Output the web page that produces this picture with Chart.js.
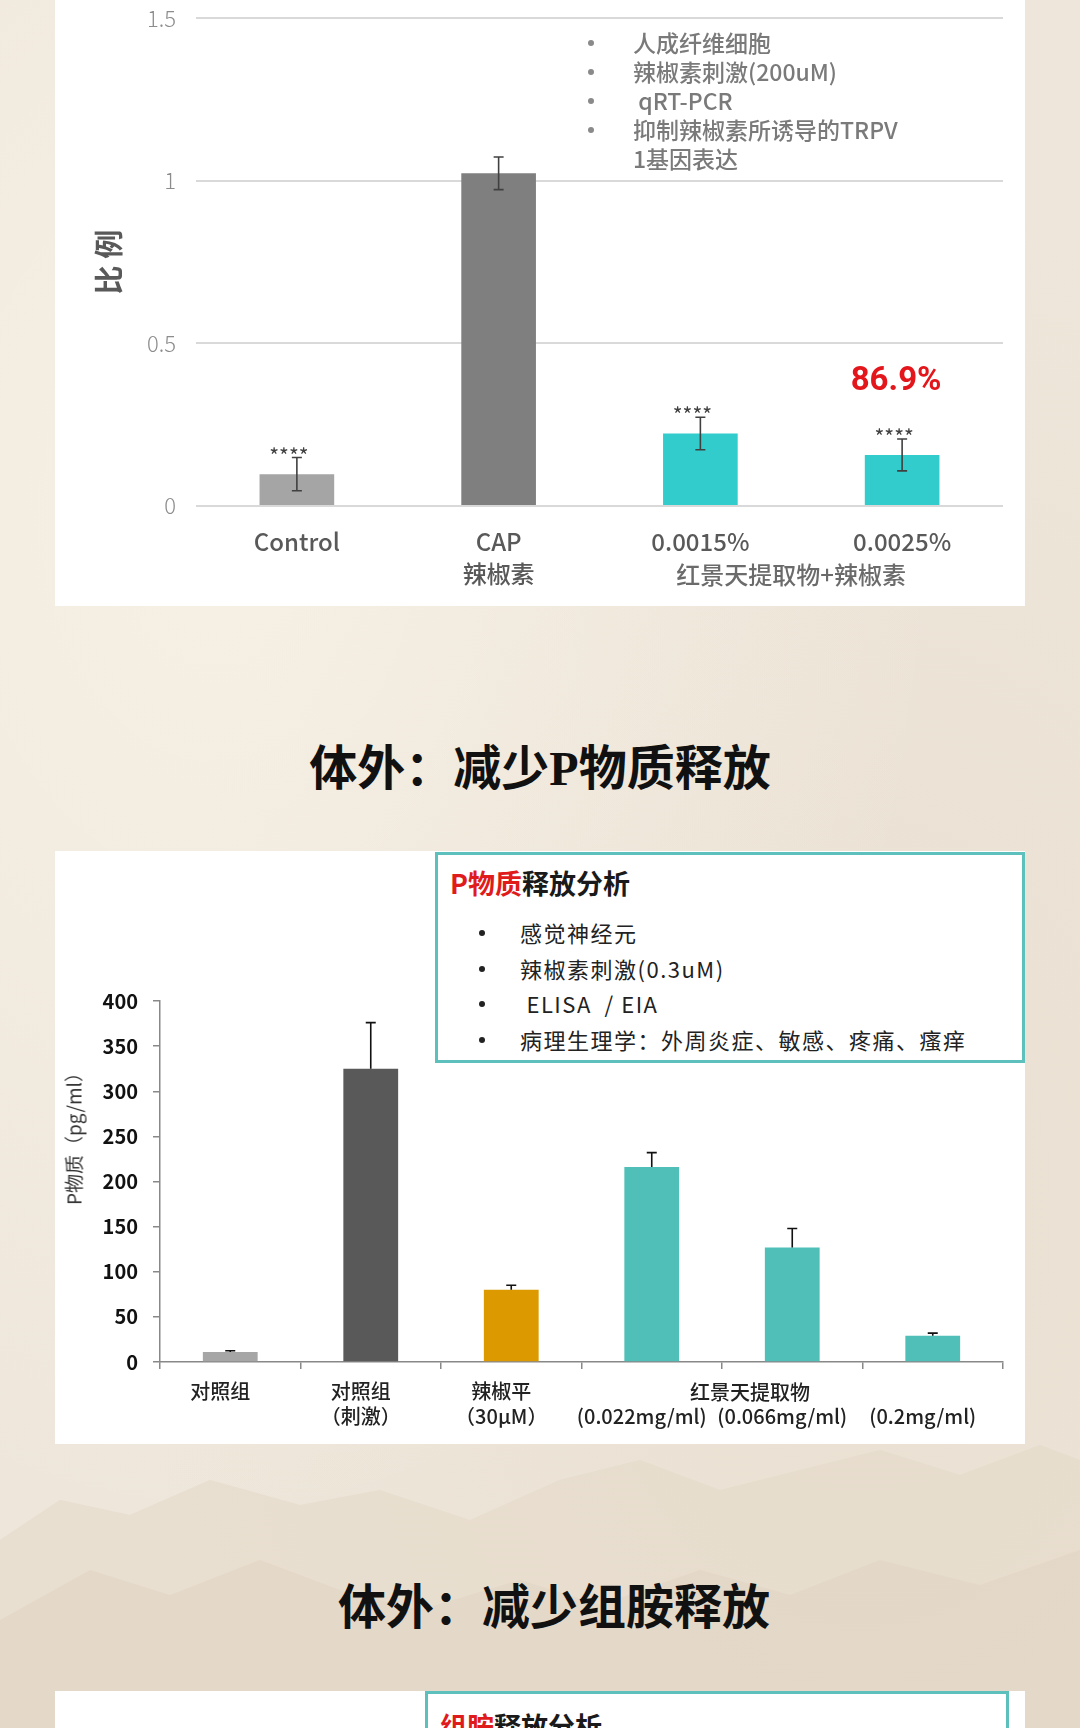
<!DOCTYPE html>
<html>
<head>
<meta charset="utf-8">
<script src="https://cdn.jsdelivr.net/npm/chart.js@4.4.1/dist/chart.umd.min.js"></script>
<style>
html, body { margin: 0; padding: 0; }
body {
  width: 1080px; height: 1728px; position: relative; overflow: hidden;
  font-family: "Noto Sans CJK SC", "Noto Sans", sans-serif;
  background:
    radial-gradient(ellipse at 20% 30%, rgba(255,250,240,0.5), rgba(255,250,240,0) 60%),
    radial-gradient(ellipse at 80% 70%, rgba(214,198,176,0.18), rgba(214,198,176,0) 60%),
    #eee6da;
}
.hills { position: absolute; left: 0; top: 1420px; width: 1080px; height: 308px; }
.panel { position: absolute; left: 55px; width: 970px; background: #fff; }
canvas { position: absolute; }
.bullets { position: absolute; color: #7a7a7a; font-size: 23px; font-weight: 500; line-height: 29px; }
.bullets div { position: relative; padding-left: 42px; white-space: nowrap; }
.bullets div.b::before {
  content: ""; position: absolute; left: -3px; top: 12px; width: 6px; height: 6px;
  border-radius: 50%; background: #8a8a8a;
}
.sec-title {
  position: absolute; width: 1080px; left: 0; text-align: center;
  font-family: "Liberation Serif", "Noto Sans CJK SC", serif; font-weight: 700;
  font-size: 48px; color: #111; line-height: 60px;
}
.infobox { position: absolute; border: 3px solid #5dc0bc; background: #fff; box-sizing: border-box; }
.infobox .ttl { position: absolute; left: 12px; font-size: 27px; font-weight: 700; color: #1a1a1a; white-space: nowrap; }
.infobox .ttl span { color: #e01b1b; }
.infobox .list { position: absolute; left: 42px; color: #222; font-size: 22px; line-height: 35.5px; letter-spacing: 1.5px; }
.infobox .list div { position: relative; padding-left: 40px; white-space: nowrap; }
.infobox .list div::before {
  content: ""; position: absolute; left: -1px; top: 15px; width: 6px; height: 6px;
  border-radius: 50%; background: #222;
}
.ytitle2 {
  position: absolute; left: 73px; top: 1134px; transform: translate(-50%, -50%) rotate(-90deg);
  font-size: 19px; color: #333; white-space: nowrap;
}
</style>
</head>
<body>

<svg class="hills" viewBox="0 0 1080 308" preserveAspectRatio="none">
  <path d="M0 120 L60 80 L130 95 L210 60 L300 85 L380 70 L470 100 L560 60 L640 40 L720 70 L800 50 L880 30 L960 55 L1040 25 L1080 40 L1080 308 L0 308 Z" fill="#e3d7c6" opacity="0.5"/>
  <path d="M0 200 L90 150 L170 175 L260 140 L340 170 L420 190 L520 160 L600 185 L700 150 L790 175 L880 140 L980 165 L1080 130 L1080 308 L0 308 Z" fill="#ddcfbc" opacity="0.35"/>
</svg>

<!-- panel 1: TRPV1 expression -->
<div class="panel" style="top:0;height:606px;"></div>
<canvas id="trpvChart" width="970" height="621" style="left:55px;top:-15px;"></canvas>
<div class="bullets" style="left:591px;top:28px;">
  <div class="b">人成纤维细胞</div>
  <div class="b">辣椒素刺激(200uM)</div>
  <div class="b">&nbsp;qRT-PCR</div>
  <div class="b">抑制辣椒素所诱导的TRPV</div>
  <div>1基因表达</div>
</div>

<div class="sec-title" style="top:739px;">体外：减少P物质释放</div>

<!-- panel 2: substance P -->
<div class="panel" style="top:851px;height:593px;"></div>
<canvas id="spChart" width="970" height="593" style="left:55px;top:851px;"></canvas>
<div class="ytitle2">P物质（pg/ml）</div>
<div class="infobox" style="left:435px;top:852px;width:590px;height:211px;">
  <div class="ttl" style="top:8px;"><span>P物质</span>释放分析</div>
  <div class="list" style="top:60px;">
    <div>感觉神经元</div>
    <div>辣椒素刺激(0.3uM)</div>
    <div>&nbsp;ELISA&nbsp; / EIA</div>
    <div>病理生理学：外周炎症、敏感、疼痛、瘙痒</div>
  </div>
</div>

<div class="sec-title" style="top:1578px;left:14px;">体外：减少组胺释放</div>

<!-- panel 3 (cut off) -->
<div class="panel" style="top:1691px;height:40px;"></div>
<div class="infobox" style="left:425px;top:1691px;width:584px;height:60px;">
  <div class="ttl" style="top:12px;"><span>组胺</span>释放分析</div>
</div>

<script>
// chart 1: TRPV1 gene expression ratio
const trpvLabels = ['Control', ['CAP', '辣椒素'], '0.0015%', '0.0025%'];
const trpvValues = [0.098, 1.023, 0.223, 0.157];
const trpvErrors = [0.051, 0.05, 0.05, 0.049];
const trpvStars = ['****', '', '****', '****'];
const trpvColors = ['#a5a5a5', '#7f7f7f', '#33cccc', '#33cccc'];
const trpvGroup = '红景天提取物+辣椒素';
const trpvNote = '86.9%';

// chart 2: substance P release
const spLabels = ['对照组', ['对照组', '（刺激）'], ['辣椒平', '（30μM）'], ['', '(0.022mg/ml)'], ['', '(0.066mg/ml)'], ['', '(0.2mg/ml)']];
const spValues = [11, 325, 80, 216, 127, 29];
const spErrors = [1.5, 51, 5, 16, 21, 3];
const spColors = ['#a6a6a6', '#595959', '#dc9a00', '#4fbfb8', '#4fbfb8', '#4fbfb8'];
const spGroup = '红景天提取物';

const CJK = '"Noto Sans CJK SC", "Noto Sans", sans-serif';

// error bars + stars, placed through the scales
const errorBars = {
  id: 'errorBars',
  afterDatasetsDraw(chart, args, opts) {
    const {ctx, scales: {x, y}} = chart;
    const data = chart.data.datasets[0].data;
    ctx.save();
    ctx.strokeStyle = opts.color;
    ctx.lineWidth = opts.width;
    data.forEach((v, i) => {
      const e = opts.errors[i];
      const px = x.getPixelForValue(i);
      const top = y.getPixelForValue(v + e);
      const bot = opts.both ? y.getPixelForValue(v - e) : y.getPixelForValue(v);
      ctx.beginPath();
      ctx.moveTo(px, top); ctx.lineTo(px, bot);
      ctx.moveTo(px - opts.cap, top); ctx.lineTo(px + opts.cap, top);
      if (opts.both) { ctx.moveTo(px - opts.cap, bot); ctx.lineTo(px + opts.cap, bot); }
      ctx.stroke();
      if (opts.stars && opts.stars[i]) {
        ctx.fillStyle = '#404040';
        ctx.font = '21px ' + CJK;
        ctx.textAlign = 'center';
        ctx.textBaseline = 'middle';
        ctx.fillText(opts.stars[i], px - 8, top - 2);
      }
    });
    ctx.restore();
  }
};

// group labels and the inhibition note
const extraText = {
  id: 'extraText',
  afterDraw(chart, args, opts) {
    const {ctx, scales: {x, y}} = chart;
    ctx.save();
    ctx.textAlign = 'center';
    ctx.textBaseline = 'middle';
    (opts.items || []).forEach(t => {
      ctx.fillStyle = t.color;
      ctx.font = t.font;
      const px = x.getPixelForValue(t.at);
      const py = t.value !== undefined ? y.getPixelForValue(t.value) : x.top + t.below;
      ctx.fillText(t.text, px, py);
    });
    ctx.restore();
  }
};

new Chart(document.getElementById('trpvChart'), {
  type: 'bar',
  data: {
    labels: trpvLabels,
    datasets: [{
      data: trpvValues,
      backgroundColor: trpvColors,
      barPercentage: 0.37,
      categoryPercentage: 1
    }]
  },
  options: {
    responsive: false,
    animation: false,
    layout: { padding: { top: 2, right: 22, bottom: 0, left: 0 } },
    plugins: {
      legend: { display: false },
      tooltip: { enabled: false },
      errorBars: { errors: trpvErrors, both: true, color: '#404040', width: 1.6, cap: 5, stars: trpvStars },
      extraText: {
        items: [
          { text: trpvGroup, at: 2.45, below: 69, color: '#6b6b6b', font: '500 24px ' + CJK },
          { text: trpvNote, at: 2.97, value: 0.383, color: '#e3161b', font: 'bold 33px Roboto, ' + CJK }
        ]
      }
    },
    scales: {
      x: {
        grid: { display: false },
        border: { display: false },
        ticks: { color: '#595959', font: { size: 24, family: CJK, weight: 500, lineHeight: 1.34 }, padding: 12, maxRotation: 0 },
        afterFit: s => { s.height = 100; }
      },
      y: {
        min: 0, max: 1.5,
        grid: { color: '#d9d9d9', lineWidth: 2, drawTicks: false },
        border: { display: false },
        ticks: { stepSize: 0.5, color: '#8c8c8c', font: { size: 22, family: CJK, weight: 300 }, padding: 20, callback: v => String(v) },
        title: {
          display: true, text: '比 例', color: '#595959',
          font: { size: 29, weight: 'bold', family: CJK },
          padding: { top: 37, bottom: 0 }
        },
        afterFit: s => { s.width = 141; }
      }
    }
  },
  plugins: [errorBars, extraText]
});

new Chart(document.getElementById('spChart'), {
  type: 'bar',
  data: {
    labels: spLabels,
    datasets: [{
      data: spValues,
      backgroundColor: spColors,
      barPercentage: 0.39,
      categoryPercentage: 1
    }]
  },
  options: {
    responsive: false,
    animation: false,
    layout: { padding: { top: 150, right: 22, bottom: 0, left: 0 } },
    plugins: {
      legend: { display: false },
      tooltip: { enabled: false },
      errorBars: { errors: spErrors, both: false, color: '#111', width: 1.6, cap: 5 },
      extraText: {
        items: [
          { text: spGroup, at: 3.7, below: 30, color: '#222', font: '500 20px ' + CJK }
        ]
      }
    },
    scales: {
      x: {
        grid: { display: true, drawOnChartArea: false, drawTicks: true, tickLength: 7, color: '#888', lineWidth: 1.5 },
        border: { display: true, color: '#888', width: 1.5 },
        ticks: { color: '#222', font: { size: 20, family: CJK, weight: 500, lineHeight: 1.25 }, padding: 10, labelOffset: -10, maxRotation: 0 },
        afterFit: s => { s.height = 82; }
      },
      y: {
        min: 0, max: 400,
        grid: { display: true, drawOnChartArea: false, drawTicks: true, tickLength: 7, color: '#888', lineWidth: 1.5 },
        border: { display: true, color: '#888', width: 1.5 },
        ticks: { stepSize: 50, color: '#111', font: { size: 20, family: CJK, weight: 'bold' }, padding: 15 },
        afterFit: s => { s.width = 105; }
      }
    }
  },
  plugins: [errorBars, extraText]
});
</script>
</body>
</html>
